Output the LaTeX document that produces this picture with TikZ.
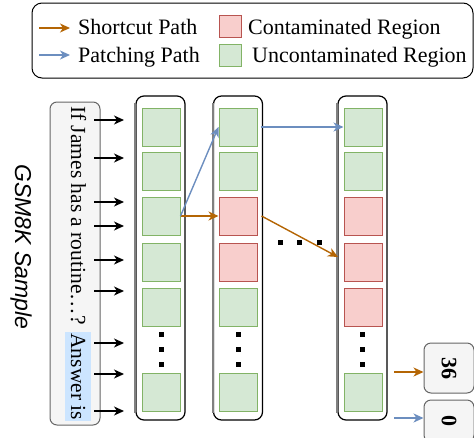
\documentclass[tikz,border=0pt]{standalone}
\usepackage{fontspec}
\setmainfont{Liberation Serif}
\newfontfamily\gsmfont{Liberation Sans}
\usepackage{tikz}
\usetikzlibrary{arrows.meta}
\definecolor{cutcol}{HTML}{B46504}
\definecolor{patchcol}{HTML}{6C8EBF}
\definecolor{cleanfill}{HTML}{D5E8D4}
\definecolor{cleandraw}{HTML}{82B366}
\definecolor{dirtyfill}{HTML}{F8CECC}
\definecolor{dirtydraw}{HTML}{B85450}
\definecolor{boxfill}{HTML}{F5F5F5}
\definecolor{boxdraw}{HTML}{666666}
\definecolor{answerhl}{HTML}{CCE5FF}
\tikzset{
    clean/.style={
           rectangle,
           draw=cleandraw, line width=1pt,
           fill=cleanfill,
           minimum size=38pt,
           inner sep=0pt,
           },
}
\tikzset{
    dirty/.style={
           rectangle,
           draw=dirtydraw, line width=1pt,
           fill=dirtyfill,
           minimum size=38pt,
           inner sep=0pt,
           },
}
\tikzset{
    layer/.style={
           rectangle, rounded corners=8pt,
           draw=black, line width=1.2pt,
           minimum width=49pt, minimum height=324pt,
           },
}
\tikzset{
    grey/.style={
           rectangle, rounded corners=7pt,
           draw=boxdraw, fill=boxfill, line width=1pt,
           inner sep=0pt,
           },
}
\tikzset{
    feed/.style={->, >={Stealth[length=10pt,width=9pt,inset=3pt]}, black, line width=1.3pt},
    cutpath/.style={->, >={Stealth[length=10pt,width=9pt,inset=3pt]}, cutcol, line width=1.4pt},
    patchpath/.style={->, >={Stealth[length=10pt,width=9pt,inset=3pt]}, patchcol, line width=1.4pt},
}

\begin{document}
\begin{tikzpicture}[x=1pt, y=-1pt, font=\fontsize{22}{26}\selectfont]
\useasboundingbox (0,0) rectangle (474,437);
% legend
\node[draw, rounded corners=10pt, line width=1pt, minimum width=441pt, minimum height=75pt] (legend) at (252.5,40.5) {};
\coordinate (k1) at (39,28); \coordinate (k2) at (70,28);
\draw[cutpath] (k1) to (k2);
\coordinate (k3) at (39,55); \coordinate (k4) at (70,55);
\draw[patchpath] (k3) to (k4);
\node[anchor=base west, inner sep=0pt] (cuttext) at (78,34) {Shortcut Path};
\node[anchor=base west, inner sep=0pt] (patchtext) at (78,62) {Patching Path};
\node[dirty, minimum size=22pt] (dirtykey) at (230,26) {};
\node[clean, minimum size=22pt] (cleankey) at (230,55.5) {};
\node[anchor=base west, inner sep=0pt] (dirtytext) at (248,34) {Contaminated Region};
\node[anchor=base west, inner sep=0pt] (cleantext) at (252,62) {Uncontaminated Region};
% sample
\node[rotate=-90, anchor=base, inner sep=0pt, font=\gsmfont\itshape\fontsize{23}{27}\selectfont] (gsm) at (15,247) {GSM8K Sample};
\node[grey, minimum width=50pt, minimum height=323pt] (sample) at (75,263.5) {};
\node[rotate=-90, anchor=base west, inner sep=0pt, font=\fontsize{21.5}{26}\selectfont] (question) at (71,106) {If James has a routine…? \setlength{\fboxsep}{1.5pt}\colorbox{answerhl}{\vrule width 0pt height 18pt depth 4.5pt Answer is}};
% layers
\node[layer] (colA) at (160.5,258) {};
\node[layer] (colB) at (238,258) {};
\node[layer] (colC) at (362.5,258) {};
\draw[black!50, line width=2pt] ([yshift=-8pt]colA.north west) -- ([yshift=8pt]colA.south west);
\draw[black!50, line width=2pt] ([yshift=-8pt]colB.north west) -- ([yshift=8pt]colB.south west);
\draw[black!50, line width=2pt] ([yshift=-8pt]colC.north west) -- ([yshift=8pt]colC.south west);
\node[clean] (a1) at (161,127) {};
\node[clean] (a2) at (161,171.5) {};
\node[clean] (a3) at (161,216) {};
\node[clean] (a4) at (161,262) {};
\node[clean] (a5) at (161,307) {};
\node[clean] (a6) at (161,392) {};
\node[clean] (b1) at (238,127) {};
\node[clean] (b2) at (238,171.5) {};
\node[dirty] (b3) at (238,216) {};
\node[dirty] (b4) at (238,262) {};
\node[clean] (b5) at (238,307) {};
\node[clean] (b6) at (238,392) {};
\node[clean] (c1) at (363,127) {};
\node[clean] (c2) at (363,171.5) {};
\node[dirty] (c3) at (363,216) {};
\node[dirty] (c4) at (363,262) {};
\node[dirty] (c5) at (363,307) {};
\node[clean] (c6) at (363,392) {};
% dots
\fill (161,334) +(-2.5,-2.5) rectangle +(2.5,2.5);
\fill (161,349) +(-2.5,-2.5) rectangle +(2.5,2.5);
\fill (161,364) +(-2.5,-2.5) rectangle +(2.5,2.5);
\fill (238,334) +(-2.5,-2.5) rectangle +(2.5,2.5);
\fill (238,349) +(-2.5,-2.5) rectangle +(2.5,2.5);
\fill (238,364) +(-2.5,-2.5) rectangle +(2.5,2.5);
\fill (362,334) +(-2.5,-2.5) rectangle +(2.5,2.5);
\fill (362,349) +(-2.5,-2.5) rectangle +(2.5,2.5);
\fill (362,364) +(-2.5,-2.5) rectangle +(2.5,2.5);
\fill (280,242) +(-2.5,-2.5) rectangle +(2.5,2.5);
\fill (299,242) +(-2.5,-2.5) rectangle +(2.5,2.5);
\fill (319,242) +(-2.5,-2.5) rectangle +(2.5,2.5);
% inputs
\coordinate (in1) at (94,120); \coordinate (to1) at (124,120); \draw[feed] (in1) to (to1);
\coordinate (in2) at (94,158); \coordinate (to2) at (124,158); \draw[feed] (in2) to (to2);
\coordinate (in3) at (94,202); \coordinate (to3) at (124,202); \draw[feed] (in3) to (to3);
\coordinate (in4) at (94,226); \coordinate (to4) at (124,226); \draw[feed] (in4) to (to4);
\coordinate (in5) at (94,260); \coordinate (to5) at (124,260); \draw[feed] (in5) to (to5);
\coordinate (in6) at (94,291); \coordinate (to6) at (124,291); \draw[feed] (in6) to (to6);
\coordinate (in7) at (94,343); \coordinate (to7) at (124,343); \draw[feed] (in7) to (to7);
\coordinate (in8) at (94,374); \coordinate (to8) at (124,374); \draw[feed] (in8) to (to8);
\coordinate (in9) at (94,411); \coordinate (to9) at (124,411); \draw[feed] (in9) to (to9);
% paths
\draw[cutpath] (a3.east) to (b3.west);
\draw[patchpath] (a3.east) to (b1.west);
\draw[patchpath] ([xshift=3pt]b1.east) to (c1.west);
\coordinate (hit) at (338,257);
\draw[cutpath] ([xshift=4pt]b3.east) to (hit);
% outputs
\node[grey, rotate=-90, minimum width=50pt, minimum height=50pt, font=\bfseries\fontsize{22}{26}\selectfont] (out36) at (449,368) {36};
\node[grey, rotate=-90, minimum width=42pt, minimum height=50pt, font=\bfseries\fontsize{22}{26}\selectfont] (out0) at (449,421) {0};
\coordinate (o1) at (394,372);
\draw[cutpath] (o1) to (o1 -| out36.south);
\coordinate (o2) at (394,418);
\draw[patchpath] (o2) to (o2 -| out0.south);
\end{tikzpicture}
\end{document}
